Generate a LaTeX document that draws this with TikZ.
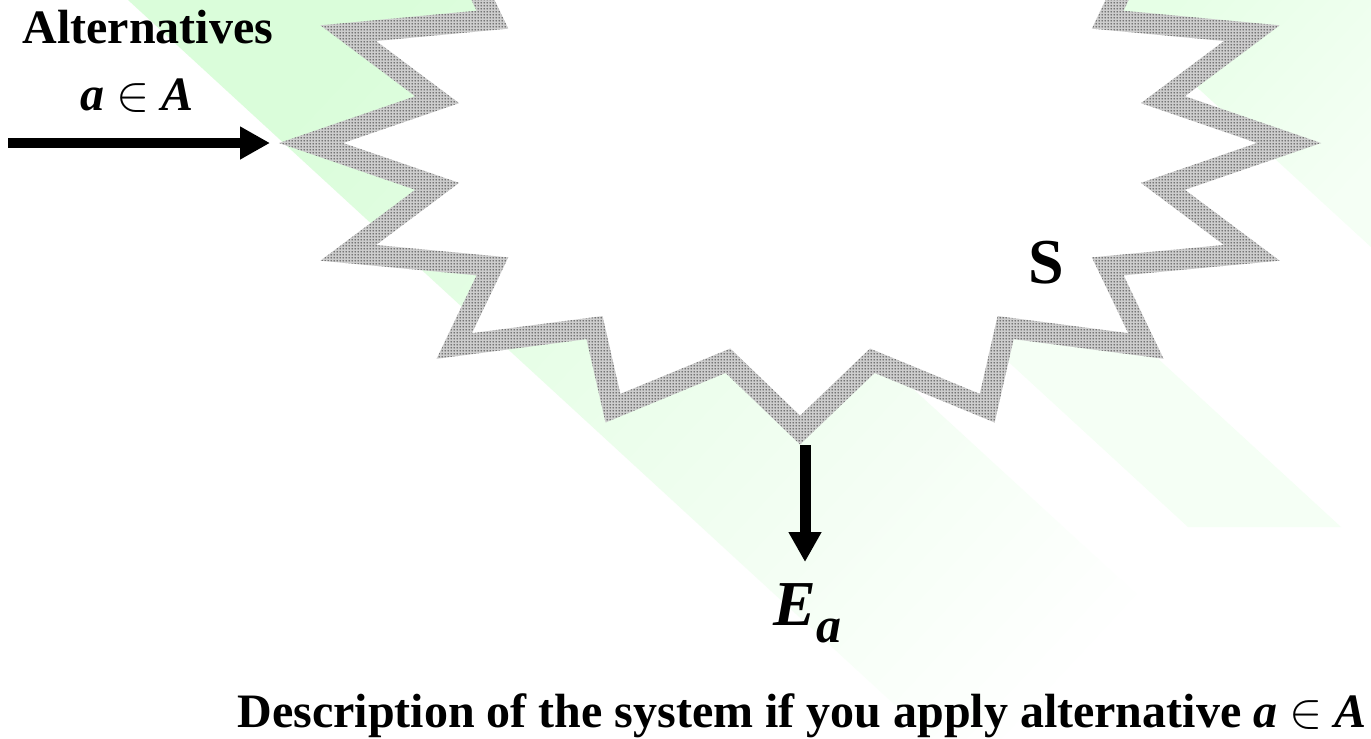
\documentclass[tikz,border=0pt]{standalone}
\usepackage{fontspec}
\setmainfont{Liberation Serif}
\usetikzlibrary{calc,arrows.meta,patterns.meta}
\definecolor{bandgreen}{RGB}{218,253,218}
\definecolor{bandgreenB}{RGB}{230,255,230}
\definecolor{bandgreenC}{RGB}{245,255,245}
\definecolor{dotgray}{RGB}{30,30,30}
\definecolor{bandgray}{RGB}{205,205,205}
\tikzdeclarepattern{
  name=stardots,
  type=uncolored,
  bounding box={(0pt,0pt) and (1.5pt,1.5pt)},
  tile size={(1.5pt,1.5pt)},
  code={\pgfpathcircle{\pgfpoint{0.75pt}{0.75pt}}{0.45pt}\pgfusepath{fill}}
}
\tikzset{
  bigarrow/.style={line width=5pt, -{Triangle[length=15pt,width=15.5pt]}},
  bigtext/.style={inner sep=0pt, font=\fontsize{24}{28}\selectfont\bfseries},
}
\begin{document}
\begin{tikzpicture}[x=0.5pt,y=-0.5pt]
\useasboundingbox (0,0) rectangle (1371,739);
\clip (0,0) rectangle (1371,739);
\fill[white] (0,0) rectangle (1371,739);
% background diagonal green stripes
\shade[top color=bandgreen, bottom color=white, shading angle=47]
  (128,0) -- (490,0) -- (1294,739) -- (932,739) -- cycle;
\fill[bandgreenC] (615,0) -- (768,0) -- (1341,527) -- (1188,527) -- cycle;
\shade[top color=bandgreenB, bottom color=bandgreenC, shading angle=47]
  (1102,0) -- (1371,0) -- (1371,247) -- cycle;
% star vertices (centre line of the outline): 16 points, 32 vertices
\foreach \k in {0,...,31}{
  \pgfmathsetmacro\ra{mod(\k,2)==0 ? 489 : 370}
  \pgfmathsetmacro\rb{mod(\k,2)==0 ? 287 : 222}
  \coordinate (v\k) at ({800+\ra*cos(\k*11.25)},{143+\rb*sin(\k*11.25)});
}
% offset lines of each edge
\foreach \k in {0,...,31}{
  \pgfmathtruncatemacro\n{mod(\k+1,32)}
  \coordinate (p\k) at ($(v\k)!5.2pt!90:(v\n)$);
  \coordinate (q\k) at ($(v\n)!5.2pt!-90:(v\k)$);
  \coordinate (r\k) at ($(v\k)!5.2pt!-90:(v\n)$);
  \coordinate (s\k) at ($(v\n)!5.2pt!90:(v\k)$);
}
\foreach \k in {0,...,31}{
  \pgfmathtruncatemacro\n{mod(\k+1,32)}
  \coordinate (o\n) at (intersection cs: first line={(p\k)--(q\k)}, second line={(p\n)--(q\n)});
  \coordinate (i\n) at (intersection cs: first line={(r\k)--(s\k)}, second line={(r\n)--(s\n)});
}
% star interior
\fill[white] (v0) \foreach \k in {1,...,31}{ -- (v\k)} -- cycle;
% dotted outline band
\fill[bandgray, even odd rule]
  (o0) \foreach \k in {1,...,31}{ -- (o\k)} -- cycle
  (i0) \foreach \k in {1,...,31}{ -- (i\k)} -- cycle;
\fill[pattern=stardots, pattern color=dotgray, even odd rule]
  (o0) \foreach \k in {1,...,31}{ -- (o\k)} -- cycle
  (i0) \foreach \k in {1,...,31}{ -- (i\k)} -- cycle;
% texts
\node[bigtext, anchor=base west] (alt) at (22,43) {Alternatives};
\node[bigtext, anchor=base] (aA) at (137,110) {\itshape a \upshape$\in$ \itshape A};
\node[inner sep=0pt, anchor=base, font=\fontsize{32}{36}\selectfont\bfseries] (S) at (1046,283) {S};
\node[inner sep=0pt, anchor=base west, font=\fontsize{32}{36}\selectfont\bfseries\itshape] (Ea) at (773,625)
  {E\raisebox{-8.5pt}{\fontsize{25}{28}\selectfont a}};
\node[bigtext, anchor=base west] (desc) at (237,727)
  {Description of the system if you apply alternative \textit{a} $\in$ \textit{A}};
% arrows
\coordinate (inStart) at (8,143);
\coordinate (inEnd) at (270,143);
\coordinate (outStart) at (805,445);
\coordinate (outEnd) at (805,562);
\draw[bigarrow] (inStart) -- (inEnd);
\draw[bigarrow, line width=5.5pt] (outStart) -- (outEnd);
\end{tikzpicture}
\end{document}
